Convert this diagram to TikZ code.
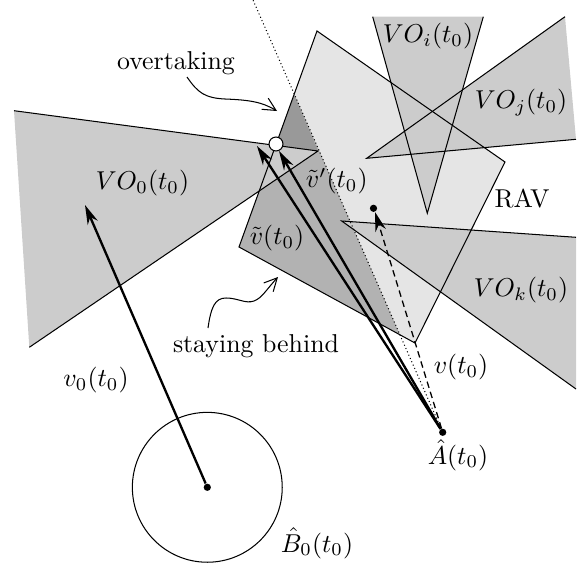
\documentclass[tikz,border=0pt]{standalone}
\usetikzlibrary{arrows.meta}

\begin{document}
\begin{tikzpicture}[x=0.387pt,y=-0.387pt,
  vec/.style={-{Stealth[length=7.5pt,width=4.2pt]},line width=0.9pt},
  note/.style={-{Straight Barb[length=5pt,width=5pt]}},
  lbl/.style={inner sep=1pt},
  dot/.style={circle,fill=black,inner sep=0pt,minimum size=2.8pt}]
\useasboundingbox (0,0) rectangle (582,566);
% main points
\coordinate (A) at (442.7,432.3);
\coordinate (B) at (207.3,487.3);
\coordinate (P) at (318,151);
\coordinate (Ltop) at (253,0);
% reachable set
\fill[gray!20] (317,31) -- (505,162) -- (415,343) -- (239,247) -- cycle;
\begin{scope}
\clip (317,31) -- (505,162) -- (415,343) -- (239,247) -- cycle;
\clip (A) -- (Ltop) -- (0,0) -- (0,566) -- cycle;
\fill[gray!60] (0,0) rectangle (582,566);
\fill[gray!80] (14,110.7) -- (P) -- (Ltop) -- (0,0) -- cycle;
\end{scope}
% velocity obstacles
\fill[gray!40] (14,110.7) -- (P) -- (29.3,347.3) -- cycle;
\fill[gray!40] (372.7,16.7) -- (427.3,213.3) -- (483.3,16.7) -- cycle;
\fill[gray!40] (565,16.7) -- (366.7,158.3) -- (576,139.3) -- cycle;
\fill[gray!40] (576,237.3) -- (341.7,221) -- (576,389) -- cycle;
\draw (317,31) -- (505,162) -- (415,343) -- (239,247) -- cycle;
\draw (14,110.7) -- (P) -- (29.3,347.3);
\draw (372.7,16.7) -- (427.3,213.3) -- (483.3,16.7);
\draw (565,16.7) -- (366.7,158.3) -- (576,139.3);
\draw (576,237.3) -- (341.7,221) -- (576,389);
% agent, obstacle
\draw (B) circle[radius=29pt];
\node[dot] (b) at (B) {};
\node[dot] (a) at (A) {};
\coordinate (tv) at (257,146);
\coordinate (tvp) at (279,151);
\coordinate (v0t) at (85,205);
\coordinate (vt) at (375,212);
\draw[densely dotted] (a) -- (Ltop);
\draw[vec] (b) -- (v0t);
\draw[vec] (a) -- (tv);
\draw[vec] (a) -- (tvp);
\draw[vec,line width=0.5pt,dash pattern=on 2.5pt off 1.6pt] (a) -- (vt);
\node[dot] (vd) at (373.5,208.3) {};
\node[circle,draw,fill=white,inner sep=0pt,minimum size=5.4pt] (c) at (276,144) {};
% labels
\node[lbl] (vo0) at (142.5,183) {$VO_0(t_0)$};
\node[lbl] (voi) at (428,36) {$VO_i(t_0)$};
\node[lbl] (voj) at (521,103) {$VO_j(t_0)$};
\node[lbl] (vok) at (521,290) {$VO_k(t_0)$};
\node[lbl] (rav) at (522,199) {RAV};
\node[lbl] (lvp) at (336.7,181) {$\tilde{v}'(t_0)$};
\node[lbl] (lv) at (277,238) {$\tilde{v}(t_0)$};
\node[lbl] (lvv) at (461,367) {$v(t_0)$};
\node[lbl] (lv0) at (96,380) {$v_0(t_0)$};
\node[lbl] (lb) at (317,543) {$\hat{B}_0(t_0)$};
\node[lbl] (la) at (458,455) {$\hat{A}(t_0)$};
\node[lbl] (ov) at (176,63) {overtaking};
\node[lbl] (sb) at (256,346) {staying behind};
% pointers
\coordinate (ovs) at (187,77);
\coordinate (ovt) at (277,111);
\coordinate (sbs) at (208,328);
\coordinate (sbt) at (278,277);
\draw[note] (ovs) .. controls (198,93) and (205,98) .. (225,99)
  .. controls (250,100) and (262,102) .. (ovt);
\draw[note] (sbs) .. controls (211,307) and (215,298) .. (226,298)
  .. controls (238,298) and (245,304) .. (254,301)
  .. controls (262,298) and (266,290) .. (sbt);
\end{tikzpicture}
\end{document}
